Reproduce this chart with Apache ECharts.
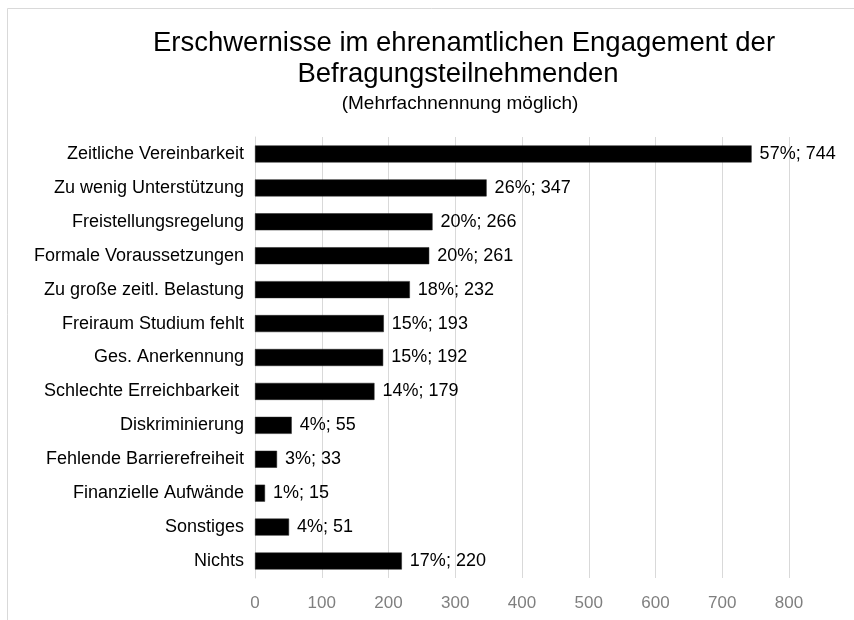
<!DOCTYPE html>
<html><head><meta charset="utf-8">
<script src="https://cdn.jsdelivr.net/npm/echarts@6/dist/echarts.min.js"></script>
<style>html,body{margin:0;padding:0;background:#fff}#c{width:854px;height:620px}</style>
</head><body><div id="c"></div>
<script>
var categories = ["Zeitliche Vereinbarkeit","Zu wenig Unterstützung","Freistellungsregelung","Formale Voraussetzungen","Zu große zeitl. Belastung","Freiraum Studium fehlt","Ges. Anerkennung","Schlechte Erreichbarkeit ","Diskriminierung","Fehlende Barrierefreiheit","Finanzielle Aufwände","Sonstiges","Nichts"];
var counts = [744,347,266,261,232,193,192,179,55,33,15,51,220];
var percents = ["57%","26%","20%","20%","18%","15%","15%","14%","4%","3%","1%","4%","17%"];
var xTicks = [0,100,200,300,400,500,600,700,800];
var titleLines = ["Erschwernisse im ehrenamtlichen Engagement der","Befragungsteilnehmenden","(Mehrfachnennung möglich)"];

var FONT = "'Liberation Sans', sans-serif";
var chart = echarts.init(document.getElementById('c'));
chart.setOption({
  backgroundColor: '#fff',
  animation: false,
  graphic: [{type:'rect', shape:{x:7.5,y:8.5,width:900,height:700}, style:{fill:'none',stroke:'#d9d9d9',lineWidth:1}}],
  title: [
    {text: titleLines[0], left: 459, top: 24, textAlign:'center', textStyle:{fontFamily:FONT,fontSize:27.5,fontWeight:'normal',color:'#000'}},
    {text: titleLines[1], left: 453, top: 55, textAlign:'center', textStyle:{fontFamily:FONT,fontSize:27.5,fontWeight:'normal',color:'#000'}},
    {text: titleLines[2], left: 455, top: 89, textAlign:'center', textStyle:{fontFamily:FONT,fontSize:19,fontWeight:'normal',color:'#000'}}
  ],
  grid: {left: 255, right: 854-789, top: 137, bottom: 620-578, containLabel: false},
  xAxis: {
    type: 'value', min: 0, max: 800, interval: 100,
    axisLine: {show:false}, axisTick:{show:false},
    splitLine: {lineStyle:{color:'#d9d9d9'}},
    axisLabel: {color:'#7f7f7f', fontSize:17, fontFamily:FONT, margin:17,
      formatter: function(v){ return xTicks.indexOf(v) >= 0 ? String(v) : ''; }}
  },
  yAxis: {
    type: 'category', data: categories, inverse: true,
    axisLine: {show:true, lineStyle:{color:'#d9d9d9'}},
    axisTick: {show:false},
    axisLabel: {color:'#000', fontSize:18, fontFamily:FONT, margin:11}
  },
  series: [{
    type: 'bar', data: counts, barWidth: 17,
    itemStyle: {color:'#000', borderColor:'#222', borderWidth:0.5},
    label: {show:true, position:'right', distance:8, color:'#000', fontSize:18, fontFamily:FONT,
      formatter: function(p){ return percents[p.dataIndex] + '; ' + p.value; }}
  }]
});
</script></body></html>
